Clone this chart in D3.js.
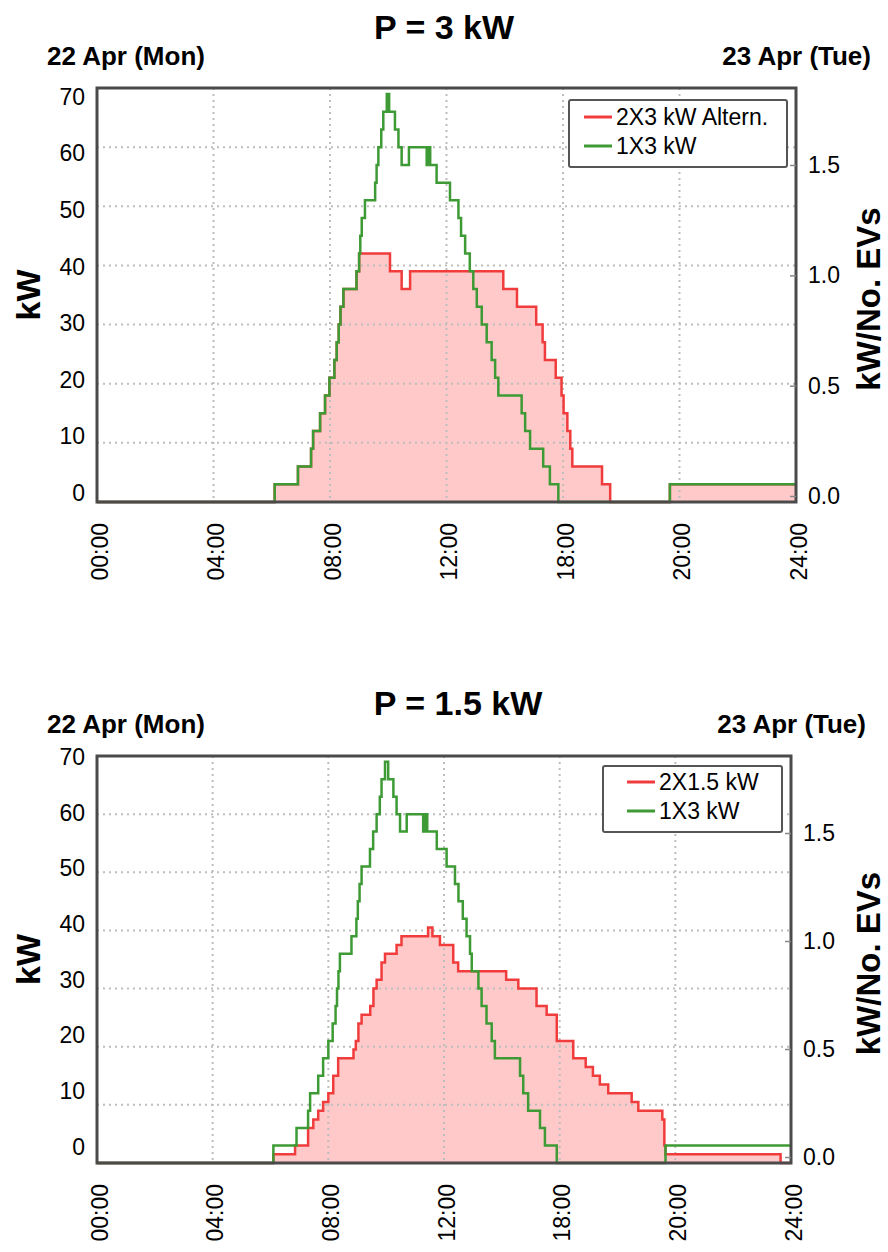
<!DOCTYPE html>
<html>
<head>
<meta charset="utf-8">
<script src="https://cdn.jsdelivr.net/npm/d3@7"></script>
<style>
  body { margin: 0; background: #fff; }
  svg text { font-family: "Liberation Sans", Arial, sans-serif; fill: #000; }
</style>
</head>
<body>
<div id="chart"></div>
<script>
// x axis: 7 evenly spaced slots, labelled as in the original figure
const hourTicks = [0, 4, 8, 12, 16, 20, 24];
const hourLabels = ["00:00", "04:00", "08:00", "12:00", "18:00", "20:00", "24:00"];
const kwTicks = [0, 10, 20, 30, 40, 50, 60, 70];
const evTicks = [0, 0.5, 1.0, 1.5];

// [hour, kW] step points (value holds until the next point)
const top1x3 = [[0,0],[6.1,3],[6.9,6],[7.35,9],[7.42,12],[7.66,15],[7.83,18],[7.98,21],[8.15,24],[8.23,27],[8.3,30],[8.36,33],[8.46,36],[8.91,39],[9.0,42],[9.04,45],[9.09,48],[9.2,51],[9.55,54],[9.6,57],[9.66,60],[9.76,63],[9.83,66],[9.95,69],[10.03,66],[10.23,63],[10.35,60],[10.46,57],[10.71,60],[11.32,57],[11.38,60],[11.44,57],[11.66,54],[12.12,51],[12.41,48],[12.5,45],[12.64,42],[12.8,39],[12.92,36],[13.04,33],[13.21,30],[13.38,27],[13.55,24],[13.67,21],[13.78,18],[14.58,15],[14.7,12],[14.87,9],[15.32,6],[15.55,3],[15.84,0],[19.67,3],[24,3]];
const top2x3Alt = [[0,0],[6.1,3],[6.9,6],[7.35,9],[7.42,12],[7.66,15],[7.83,18],[7.98,21],[8.15,24],[8.23,27],[8.3,30],[8.36,33],[8.46,36],[8.91,39],[9.0,42],[10.06,39],[10.46,36],[10.75,39],[13.95,36],[14.42,33],[15.08,30],[15.3,27],[15.38,24],[15.75,21],[15.95,18],[16.02,15],[16.15,12],[16.25,9],[16.32,6],[17.34,3],[17.62,0],[19.67,3],[24,3]];

const bot1x3 = [[0,0],[6.1,3],[6.9,6],[7.3,9],[7.37,12],[7.65,15],[7.82,18],[8.0,21],[8.15,24],[8.25,27],[8.3,30],[8.35,33],[8.4,36],[8.8,39],[8.97,42],[9.02,45],[9.08,48],[9.15,51],[9.44,54],[9.55,57],[9.67,60],[9.78,63],[9.84,66],[9.96,69],[10.07,66],[10.25,63],[10.36,60],[10.48,57],[10.71,60],[11.28,57],[11.35,60],[11.42,57],[11.75,54],[12.09,51],[12.38,48],[12.5,45],[12.65,42],[12.78,39],[12.9,36],[12.96,33],[13.19,30],[13.3,27],[13.47,24],[13.65,21],[13.76,18],[14.63,15],[14.74,12],[14.91,9],[15.32,6],[15.49,3],[15.9,0],[19.66,3],[24,3]];
const bot2x15 = [[0,0],[6.1,1.5],[6.85,3],[7.3,6],[7.48,7.5],[7.65,9],[7.82,10.5],[8.0,12],[8.17,15],[8.34,18],[8.87,19.5],[8.95,21],[9.04,24],[9.15,25.5],[9.45,27],[9.56,30],[9.67,31.5],[9.84,34.5],[9.96,36],[10.36,37.5],[10.53,39],[11.45,40.5],[11.6,39],[11.86,37.5],[12.32,34.5],[12.49,33],[14.15,31.5],[14.57,30],[15.2,27],[15.55,25.5],[15.9,21],[16.47,18],[16.9,16.5],[17.15,15],[17.39,13.5],[17.68,12],[18.49,10.5],[18.72,9],[19.55,7.5],[19.62,3],[19.66,1.5],[23.64,0],[24,0]];

const topNames = ["2X3 kW Altern.", "1X3 kW"];
const botNames = ["2X1.5 kW", "1X3 kW"];

const RED = "#f03c3c", PINK = "#ffc9c9", GREEN = "#3d9a35";

const svg = d3.select("#chart").append("svg")
  .attr("width", 888).attr("height", 1252);

const charts = [
  { title: "P = 3 kW", titleX: 444, titleY: 39, dateY: 65,
    left: 97, right: 796, top: 88, bottom: 502,
    labTop: 97, labBottom: 493, evTop: 165, evBottom: 496,
    legend: { x: 569, y: 100, w: 218, h: 67, textX: 616, r1: 117, r2: 146 },
    red: top2x3Alt, green: top1x3, names: topNames },
  { title: "P = 1.5 kW", titleX: 458, titleY: 715, dateY: 733,
    left: 97, right: 791, top: 756, bottom: 1163,
    labTop: 757, labBottom: 1147, evTop: 833, evBottom: 1157,
    legend: { x: 603, y: 766, w: 179, h: 66, textX: 659, r1: 782, r2: 811 },
    red: bot2x15, green: bot1x3, names: botNames }
];

charts.forEach(function (c) {
  const g = svg.append("g");
  const x = d3.scaleLinear().domain([0, 24]).range([c.left, c.right]);
  const y = d3.scaleLinear().domain([0, 70]).range([c.bottom, c.top]);
  const yLab = d3.scaleLinear().domain([0, 70]).range([c.labBottom, c.labTop]);
  const yEv = d3.scaleLinear().domain([0, 1.5]).range([c.evBottom, c.evTop]);

  // titles
  g.append("text").attr("x", c.titleX).attr("y", c.titleY)
    .attr("text-anchor", "middle").attr("font-size", 34).attr("font-weight", "bold")
    .text(c.title);
  g.append("text").attr("x", 47).attr("y", c.dateY)
    .attr("font-size", 26).attr("font-weight", "bold").text("22 Apr (Mon)");
  g.append("text").attr("x", c.right + 75).attr("y", c.dateY).attr("text-anchor", "end")
    .attr("font-size", 26).attr("font-weight", "bold").text("23 Apr (Tue)");

  // red area
  const area = d3.area().curve(d3.curveStepAfter)
    .x(d => x(d[0])).y0(y(0)).y1(d => y(d[1]));
  g.append("path").datum(c.red).attr("d", area).attr("fill", PINK);

  // grid
  g.selectAll(".hgrid").data(kwTicks.slice(1, -1)).join("line")
    .attr("x1", c.left).attr("x2", c.right)
    .attr("y1", d => y(d)).attr("y2", d => y(d))
    .attr("stroke", "#bdbdbd").attr("stroke-width", 2).attr("stroke-dasharray", "2,4");
  g.selectAll(".vgrid").data(hourTicks.slice(1, -1)).join("line")
    .attr("x1", d => x(d)).attr("x2", d => x(d))
    .attr("y1", c.top).attr("y2", c.bottom)
    .attr("stroke", "#bdbdbd").attr("stroke-width", 2).attr("stroke-dasharray", "2,4");

  // lines
  const line = d3.line().curve(d3.curveStepAfter).x(d => x(d[0])).y(d => y(d[1]));
  g.append("path").datum(c.red).attr("d", line)
    .attr("fill", "none").attr("stroke", RED).attr("stroke-width", 2.5);
  g.append("path").datum(c.green).attr("d", line)
    .attr("fill", "none").attr("stroke", GREEN).attr("stroke-width", 2.5);

  // frame
  g.append("rect").attr("x", c.left).attr("y", c.top)
    .attr("width", c.right - c.left).attr("height", c.bottom - c.top)
    .attr("fill", "none").attr("stroke", "#4a4a4a").attr("stroke-width", 3);

  // left axis labels
  const ax = g.append("g").attr("transform", `translate(${c.left - 12},0)`)
    .call(d3.axisLeft(yLab).tickValues(kwTicks).tickSize(0).tickPadding(0));
  ax.select(".domain").remove();
  ax.selectAll("text").attr("font-size", 23).style("font-family", null);

  // right axis
  const axr = g.append("g").attr("transform", `translate(${c.right},0)`)
    .call(d3.axisRight(yEv).tickValues(evTicks).tickFormat(d3.format(".1f"))
      .tickSizeInner(-6).tickSizeOuter(0).tickPadding(12));
  axr.select(".domain").remove();
  axr.selectAll("line").attr("stroke", "#888").attr("stroke-width", 1.5);
  axr.selectAll("text").attr("font-size", 23).style("font-family", null);

  // bottom axis labels, rotated
  const axb = g.append("g").attr("transform", `translate(0,${c.bottom})`)
    .call(d3.axisBottom(x).tickValues(hourTicks).tickFormat((d, i) => hourLabels[i]).tickSize(0));
  axb.select(".domain").remove();
  axb.selectAll("text").attr("font-size", 23).style("font-family", null)
    .attr("transform", "rotate(-90)").attr("text-anchor", "end")
    .attr("x", -21).attr("y", 2).attr("dy", "0.35em");

  // axis titles
  const mid = (c.top + c.bottom) / 2;
  g.append("text").attr("transform", `translate(40,${mid}) rotate(-90)`)
    .attr("text-anchor", "middle").attr("font-size", 34).attr("font-weight", "bold").text("kW");
  g.append("text").attr("transform", `translate(880,${mid + 4}) rotate(-90)`)
    .attr("text-anchor", "middle").attr("font-size", 33).attr("font-weight", "bold").text("kW/No. EVs");

  // legend
  const L = c.legend;
  const lg = g.append("g");
  lg.append("rect").attr("x", L.x).attr("y", L.y).attr("width", L.w).attr("height", L.h)
    .attr("rx", 2).attr("fill", "#fff").attr("stroke", "#555").attr("stroke-width", 2);
  [[RED, c.names[0], L.r1], [GREEN, c.names[1], L.r2]].forEach(function (e) {
    lg.append("line").attr("x1", L.textX - 32).attr("x2", L.textX - 4)
      .attr("y1", e[2]).attr("y2", e[2]).attr("stroke", e[0]).attr("stroke-width", 3);
    lg.append("text").attr("x", L.textX).attr("y", e[2]).attr("dy", "0.36em")
      .attr("font-size", 23).text(e[1]);
  });
});
</script>
</body>
</html>
